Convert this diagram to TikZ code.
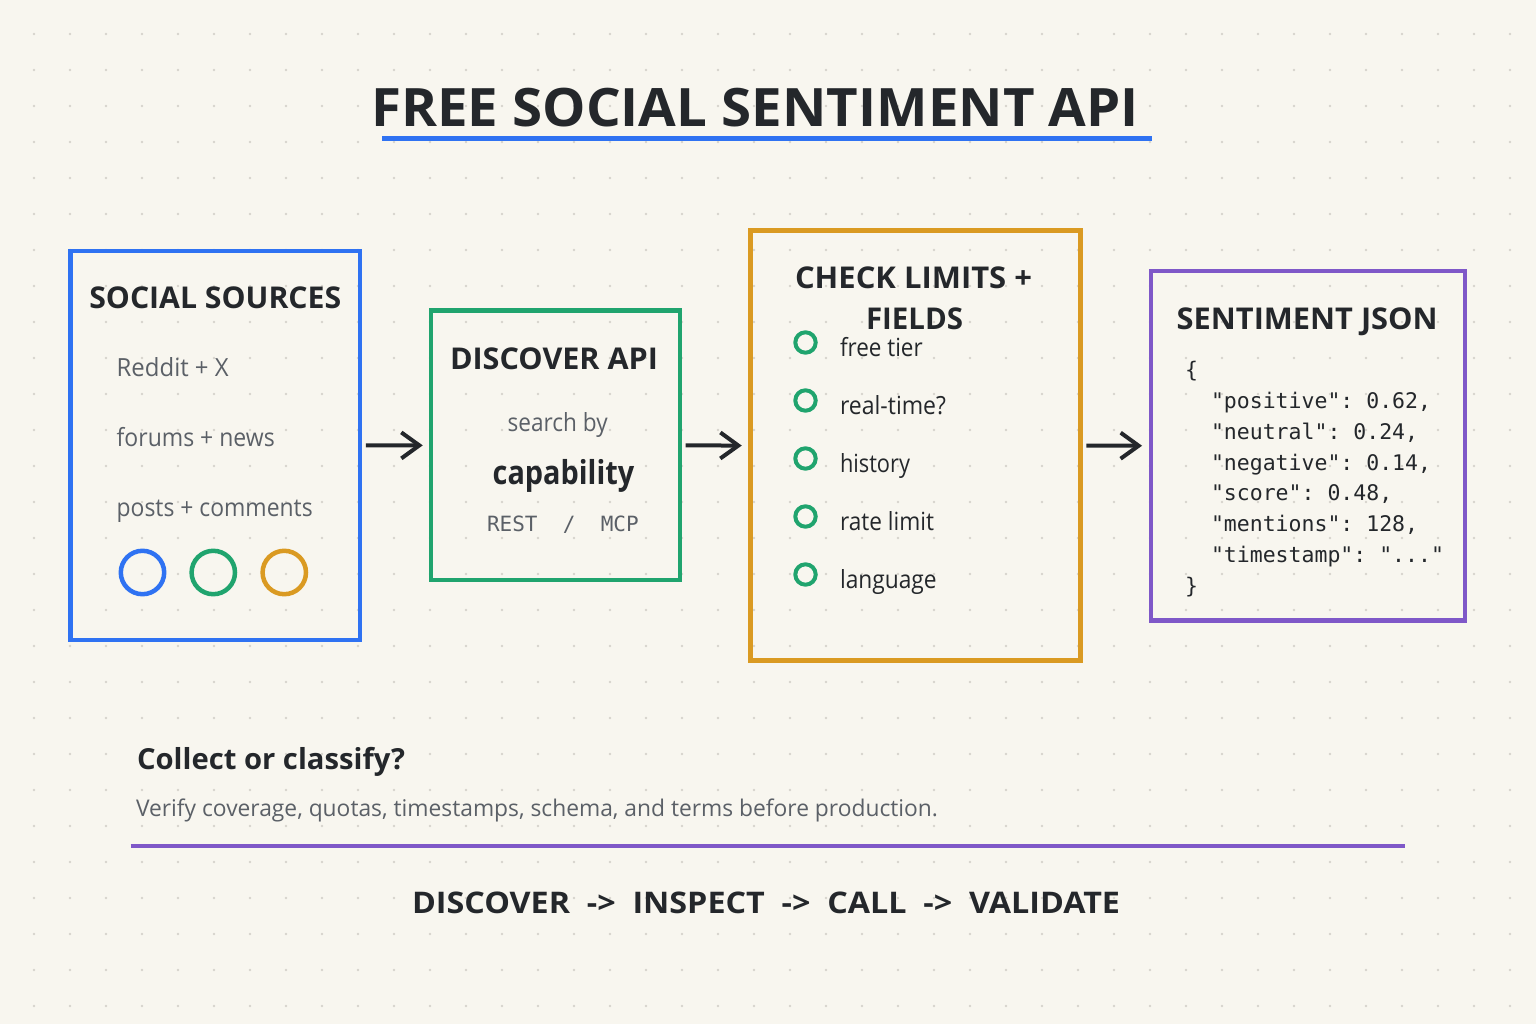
\documentclass[tikz,border=0pt]{standalone}
\usepackage{fontspec}
\setmainfont{Open Sans}
\newfontfamily\monof{DejaVu Sans Mono}
\usetikzlibrary{arrows.meta}
\frenchspacing
\definecolor{bg}{HTML}{F8F6EF}
\definecolor{dotc}{HTML}{D6D3CC}
\definecolor{ink}{HTML}{24272B}
\definecolor{txtgray}{HTML}{5B6067}
\definecolor{cblue}{HTML}{2F72F2}
\definecolor{cgreen}{HTML}{20A46E}
\definecolor{corange}{HTML}{DA9A22}
\definecolor{cpurple}{HTML}{7F58C8}
\newcommand\fitw[2]{\resizebox{#1}{\height}{#2}}
\newcommand\fitwh[3]{\resizebox{#1}{#2}{#3}}
\tikzset{
  box/.style={draw=#1, line width=4.5pt, rectangle, inner sep=0pt},
  txt/.style={inner sep=0pt, outer sep=0pt, anchor=base west},
  hd/.style={txt, text=ink, font=\fontsize{30}{30}\selectfont\bfseries},
  body/.style={txt, text=txtgray, font=\fontsize{25}{25}\selectfont},
  item/.style={txt, text=ink, font=\fontsize{25}{25}\selectfont},
  mono/.style={txt, font=\fontsize{21.5}{21.5}\selectfont\monof\frenchspacing, text=ink},
  arr/.style={draw=ink, line width=4pt, -{Straight Barb[length=18pt,width=26pt]}},
  ring/.style={draw=#1, line width=4.5pt, circle, inner sep=0pt, minimum size=43.4pt},
  chk/.style={draw=cgreen, line width=4pt, circle, inner sep=0pt, minimum size=20.4pt},
}
\begin{document}
\begin{tikzpicture}[x=1pt,y=-1pt]
\fill[bg] (0,0) rectangle (1536,1024);
\foreach \i in {0,...,41}{\foreach \j in {0,...,27}{\fill[dotc] (34+36*\i,34+36*\j) circle (1.3pt);}}

% title
\node[txt, text=ink, font=\fontsize{56}{56}\selectfont\bfseries] (title) at (371,126.7) {\fitwh{768pt}{38.4pt}{FREE SOCIAL SENTIMENT API}};
\coordinate (ul1) at (382.4,138.3);
\coordinate (ul2) at (1152,138.3);
\draw[cblue, line width=4.5pt] (ul1) -- (ul2);

% boxes
\node[box=cblue, minimum width=289.5pt, minimum height=389pt] (src) at (215.25,445.5) {};
\node[box=cgreen, minimum width=248.8pt, minimum height=269.7pt] (disc) at (555.4,445.35) {};
\node[box=corange, minimum width=330pt, minimum height=429.8pt] (chk) at (915.5,445.6) {};
\node[box=cpurple, minimum width=314.2pt, minimum height=349.9pt] (json) at (1307.9,445.75) {};

% arrows
\draw[arr, shorten <=3.7pt, shorten >=6pt] (src.east) -- (disc.west);
\draw[arr, shorten <=3.5pt, shorten >=6.5pt] (disc.east) -- (chk.west);
\draw[arr, shorten <=3.5pt, shorten >=6.5pt] (chk.east) -- (json.west);

% social sources
\node[hd] (srct) at (89.3,308.3) {\fitw{252pt}{SOCIAL SOURCES}};
\node[body] (s1) at (116.7,376) {\fitw{112pt}{Reddit + X}};
\node[body] (s2) at (116.7,446) {\fitw{158pt}{forums + news}};
\node[body] (s3) at (116.7,516) {\fitw{196pt}{posts + comments}};
\node[ring=cblue] (r1) at (142.5,572.5) {};
\node[ring=cgreen] (r2) at (213.3,572.5) {};
\node[ring=corange] (r3) at (284.3,572.5) {};

% discover
\node[hd] (disct) at (450,369.3) {\fitw{208pt}{DISCOVER API}};
\node[body] (d1) at (507.7,431) {\fitw{100pt}{search by}};
\node[txt, text=ink, font=\fontsize{33}{33}\selectfont\bfseries] (d2) at (492.7,484.3) {\fitw{141.6pt}{capability}};
\node[txt, text=txtgray, font=\fontsize{21}{21}\selectfont\monof] (d3) at (487,531) {REST\ \ /\ \ MCP};

% check limits
\node[hd, anchor=base] (chkt1) at (913.5,288.3) {\fitw{237pt}{CHECK LIMITS +}};
\node[hd, anchor=base] (chkt2) at (914.5,329.3) {\fitw{97pt}{FIELDS}};
\foreach \k/\t/\w in {0/free tier/82.7, 1/real-time?/106, 2/history/70, 3/rate limit/94, 4/language/96.7}{
  \node[chk] (c\k) at (805.5,342.5+58*\k) {};
  \node[item] (ct\k) at (840,356+58*\k) {\fitw{\w pt}{\t}};
}

% json
\node[hd] (jsont) at (1176.7,329.3) {\fitw{261pt}{SENTIMENT JSON}};
\node[mono] (j0) at (1185,377) {\{};
\node[mono] (j1) at (1211,408) {"positive": 0.62,};
\node[mono] (j2) at (1211,439) {"neutral": 0.24,};
\node[mono] (j3) at (1211,470) {"negative": 0.14,};
\node[mono] (j4) at (1211,500) {"score": 0.48,};
\node[mono] (j5) at (1211,531) {"mentions": 128,};
\node[mono] (j6) at (1211,562) {"timestamp": "..."};
\node[mono] (j7) at (1185,593) {\}};

% bottom
\node[txt, text=ink, font=\fontsize{29}{29}\selectfont\bfseries] (q) at (137,769) {\fitw{268pt}{Collect or classify?}};
\node[txt, text=txtgray, font=\fontsize{23}{23}\selectfont] (v) at (136,816) {\fitw{802pt}{Verify coverage, quotas, timestamps, schema, and terms before production.}};
\coordinate (pl1) at (130.7,846);
\coordinate (pl2) at (1405,846);
\draw[cpurple, line width=4.5pt] (pl1) -- (pl2);
\node[txt, text=ink, font=\fontsize{30}{30}\selectfont\bfseries] (flow) at (412,913.3) {\fitwh{708pt}{21.6pt}{DISCOVER\ \ ->\ \ INSPECT\ \ ->\ \ CALL\ \ ->\ \ VALIDATE}};
\end{tikzpicture}
\end{document}
